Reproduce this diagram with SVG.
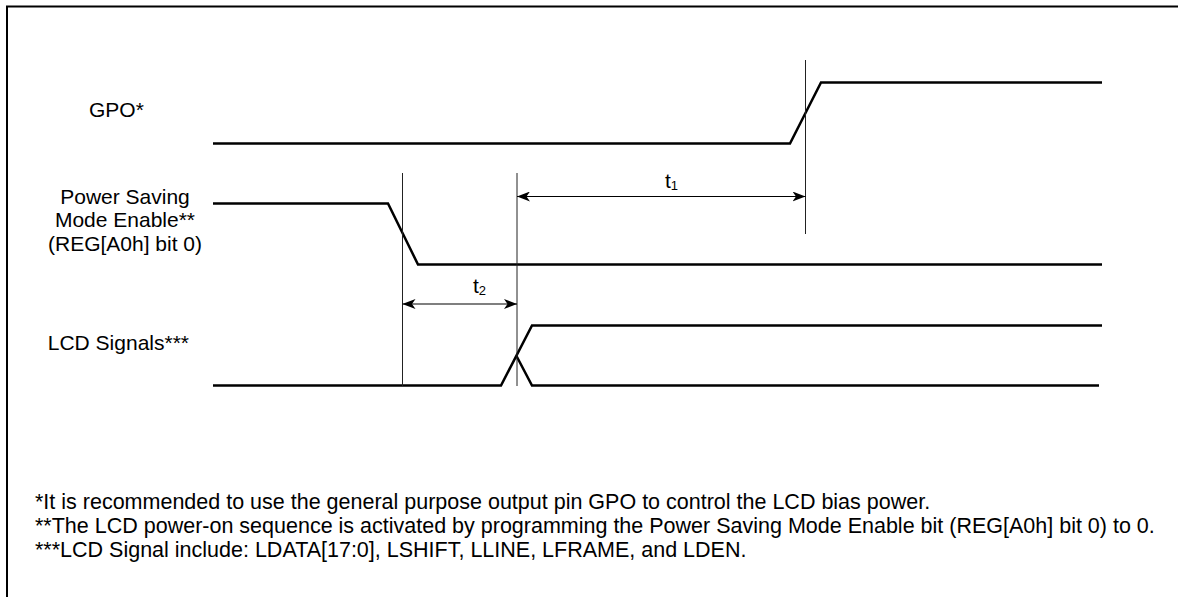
<svg xmlns="http://www.w3.org/2000/svg" width="1178" height="597" viewBox="0 0 1178 597">
<style>
.t{font-family:"Liberation Sans",Arial,sans-serif;font-size:21px;fill:#000}
.n{font-family:"Liberation Sans",Arial,sans-serif;font-size:21.5px;fill:#000}
.sig{fill:none;stroke:#000;stroke-width:2.5;stroke-linejoin:miter}
.ref{stroke:#222;stroke-width:1}
.dim{stroke:#000;stroke-width:1.2;fill:none}
</style>
<defs>
<marker id="ah" viewBox="0 0 13 10" refX="13" refY="5" markerWidth="13" markerHeight="10" markerUnits="userSpaceOnUse" orient="auto-start-reverse">
<path d="M0,0 L13,5 L0,10 L3.5,5 Z" fill="#000"/>
</marker>
</defs>
<rect x="0" y="0" width="1178" height="597" fill="#fff"/>
<rect x="7" y="6.5" width="1180" height="600" fill="none" stroke="#000" stroke-width="2"/>
<g id="label-gpo"><text class="t" x="89" y="117">GPO*</text></g>
<g id="label-psme">
<text class="t" x="125" y="203.5" text-anchor="middle">Power Saving</text>
<text class="t" x="125" y="227" text-anchor="middle">Mode Enable**</text>
<text class="t" x="125" y="250.5" text-anchor="middle">(REG[A0h] bit 0)</text>
</g>
<g id="label-lcd"><text class="t" x="189" y="350" text-anchor="end">LCD Signals***</text></g>
<g id="signal-gpo"><path class="sig" d="M213,143.5 L790,143.5 L821,82.5 L1102,82.5"/></g>
<g id="signal-psme"><path class="sig" d="M213,203.5 L388,203.5 L418,264.5 L1102,264.5"/></g>
<g id="signal-lcd">
<path class="sig" d="M213,385.5 L501,385.5 L532,325.5 L1102,325.5"/>
<path class="sig" d="M516.5,356 L532,385.5 L1099,385.5"/>
</g>
<g id="connectors">
<line class="ref" x1="402.5" y1="173" x2="402.5" y2="386"/>
<line class="ref" x1="517" y1="173" x2="517" y2="386"/>
<line class="ref" x1="805.5" y1="60" x2="805.5" y2="234"/>
<line class="dim" x1="517" y1="196.5" x2="805.5" y2="196.5" marker-start="url(#ah)" marker-end="url(#ah)"/>
<line class="dim" x1="402.5" y1="304" x2="517" y2="304" marker-start="url(#ah)" marker-end="url(#ah)"/>
</g>
<g id="label-t1"><text class="t" x="665" y="188" font-size="19">t<tspan font-size="13" dy="2">1</tspan></text></g>
<g id="label-t2"><text class="t" x="473" y="293" font-size="19">t<tspan font-size="13" dy="2">2</tspan></text></g>
<g id="notes">
<text class="n" x="35" y="509">*It is recommended to use the general purpose output pin GPO to control the LCD bias power.</text>
<text class="n" x="35" y="533">**The LCD power-on sequence is activated by programming the Power Saving Mode Enable bit (REG[A0h] bit 0) to 0.</text>
<text class="n" x="35" y="557">***LCD Signal include: LDATA[17:0], LSHIFT, LLINE, LFRAME, and LDEN.</text>
</g>
</svg>
